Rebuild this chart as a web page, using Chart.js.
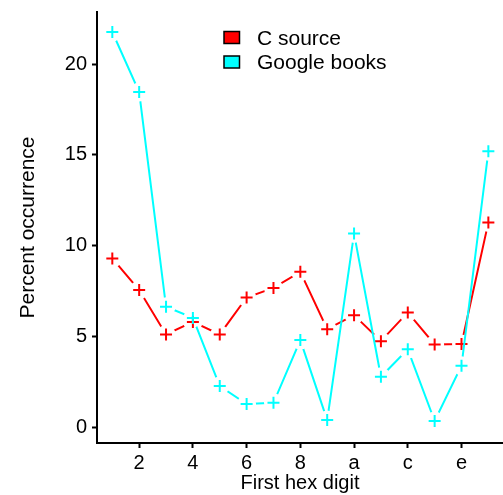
<!DOCTYPE html>
<html><head><meta charset="utf-8">
<script src="https://cdn.jsdelivr.net/npm/chart.js@4/dist/chart.umd.min.js"></script>
<style>html,body{margin:0;padding:0;background:#fff;overflow:hidden}canvas{display:block}</style>
</head><body>
<canvas id="c" width="503" height="495"></canvas>
<script>
const categories = ['1','2','3','4','5','6','7','8','9','a','b','c','d','e','f'];
const cSource = [9.31,7.57,5.13,5.82,5.13,7.16,7.69,8.57,5.42,6.19,4.76,6.34,4.58,4.60,11.29];
const googleBooks = [21.76,18.46,6.65,6.04,2.29,1.30,1.37,4.82,0.42,10.68,2.80,4.31,0.37,3.41,15.20];
const seriesLabels = ['C source','Google books'];
const seriesColors = ['#ff0000','#00ffff'];
const xTickLabels = ['2','4','6','8','a','c','e'];
const yTickValues = [0,5,10,15,20];
const xTitle = 'First hex digit';
const yTitle = 'Percent occurrence';

const FONT = "'Liberation Sans', Arial, Helvetica, sans-serif";
const toPoints = vals => categories.map((c,i)=>({x: parseInt(c,16), y: vals[i]}));

function pointsDs(vals, color){
  return {data: toPoints(vals), showLine:false, pointStyle:'cross', pointRadius:6,
    pointBorderColor:color, pointBackgroundColor:color, pointBorderWidth:2, borderColor:color};
}
function lineDs(vals, color){
  return {data: toPoints(vals), gapLine:true, pointRadius:0, borderColor:color, borderWidth:2,
    tension:0, fill:false};
}

const gapClip = {
  id:'gapClip',
  beforeDatasetDraw(chart, args){
    const ds = chart.data.datasets[args.index];
    if(!ds.gapLine) return;
    const ctx = chart.ctx, R = 9.5;
    ctx.save();
    ctx.beginPath();
    ctx.rect(0,0,chart.width,chart.height);
    args.meta.data.forEach(p=>{ ctx.moveTo(p.x+R,p.y); ctx.arc(p.x,p.y,R,0,Math.PI*2); });
    ctx.clip('evenodd');
  },
  afterDatasetDraw(chart, args){
    const ds = chart.data.datasets[args.index];
    if(ds.gapLine) chart.ctx.restore();
  }
};

const customLegend = {
  id:'customLegend',
  afterDraw(chart){
    const ctx = chart.ctx;
    ctx.save();
    ctx.font = '21px ' + FONT;
    ctx.textBaseline = 'alphabetic';
    ctx.textAlign = 'left';
    seriesLabels.forEach((lab,i)=>{
      const y = 31.5 + 24.5*i;
      ctx.fillStyle = seriesColors[i];
      ctx.fillRect(224, y, 15.5, 12);
      ctx.strokeStyle = '#000'; ctx.lineWidth = 1.5;
      ctx.strokeRect(224, y, 15.5, 12);
      ctx.fillStyle = '#000';
      ctx.fillText(lab, 257, y + 13);
    });
    ctx.restore();
  }
};

new Chart(document.getElementById('c'), {
  type:'line',
  data:{ datasets:[
    pointsDs(googleBooks, seriesColors[1]),
    lineDs(googleBooks, seriesColors[1]),
    pointsDs(cSource, seriesColors[0]),
    lineDs(cSource, seriesColors[0])
  ]},
  options:{
    responsive:false, animation:false, devicePixelRatio:1, events:[],
    layout:{autoPadding:false, padding:{top:12,left:0,right:0,bottom:0}},
    plugins:{legend:{display:false}, tooltip:{enabled:false}},
    scales:{
      x:{type:'linear', min:0.43, max:15.545,
        afterFit(s){ s.height = 52; s.paddingLeft = 0; s.paddingRight = 0; },
        afterBuildTicks(s){ s.ticks = xTickLabels.map(l=>({value:parseInt(l,16)})); },
        ticks:{ color:'#000', font:{family:FONT,size:20}, padding:3, maxRotation:0, autoSkip:false,
          callback:(v)=> v.toString(16) },
        grid:{drawOnChartArea:false, drawTicks:true, tickLength:5, tickColor:'#000', tickWidth:2},
        border:{display:true, color:'#000', width:2},
        title:{display:true, text:xTitle, color:'#000', font:{family:FONT,size:20}, padding:{top:0,bottom:0}}
      },
      y:{type:'linear', min:-0.84, max:22.86,
        afterFit(s){ s.width = 97; s.paddingTop = 0; s.paddingBottom = 0; },
        afterBuildTicks(s){ s.ticks = yTickValues.map(v=>({value:v})); },
        ticks:{ color:'#000', font:{family:FONT,size:20}, padding:5 },
        grid:{drawOnChartArea:false, drawTicks:true, tickLength:5, tickColor:'#000', tickWidth:2},
        border:{display:true, color:'#000', width:2},
        title:{display:true, text:yTitle, color:'#000', font:{family:FONT,size:21}, padding:{top:16,bottom:0}}
      }
    }
  },
  plugins:[gapClip, customLegend]
});
</script>
</body></html>
